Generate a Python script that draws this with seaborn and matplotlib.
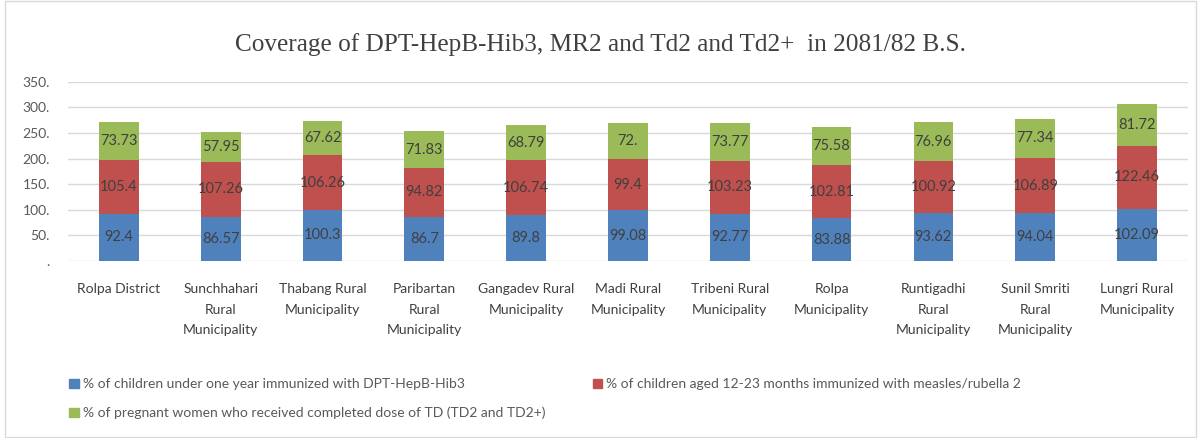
import matplotlib
matplotlib.use("Agg")
import matplotlib.pyplot as plt
import seaborn as sns
import numpy as np
import pandas as pd
from matplotlib.patches import Rectangle, Patch

categories = ["Rolpa District", "Sunchhahari\nRural\nMunicipality", "Thabang Rural\nMunicipality",
              "Paribartan\nRural\nMunicipality", "Gangadev Rural\nMunicipality", "Madi Rural\nMunicipality",
              "Tribeni Rural\nMunicipality", "Rolpa\nMunicipality", "Runtigadhi\nRural\nMunicipality",
              "Sunil Smriti\nRural\nMunicipality", "Lungri Rural\nMunicipality"]
dpt = [92.4, 86.57, 100.3, 86.7, 89.8, 99.08, 92.77, 83.88, 93.62, 94.04, 102.09]
mr2 = [105.4, 107.26, 106.26, 94.82, 106.74, 99.4, 103.23, 102.81, 100.92, 106.89, 122.46]
td2 = [73.73, 57.95, 67.62, 71.83, 68.79, 72.0, 73.77, 75.58, 76.96, 77.34, 81.72]
series_names = ["% of children under one year immunized with DPT-HepB-Hib3",
                "% of children aged 12-23 months immunized with measles/rubella 2",
                "% of pregnant women who received completed dose of TD (TD2 and TD2+)"]
yticks = [0, 50, 100, 150, 200, 250, 300, 350]
title = "Coverage of DPT-HepB-Hib3, MR2 and Td2 and Td2+  in 2081/82 B.S."

colors = ["#4F81BD", "#C0504D", "#9BBB59"]

def fmt(v):
    s = f"{v:g}"
    if s == "0":
        return "."
    if "." not in s:
        s += "."
    return s

df = pd.DataFrame({"cat": categories, "dpt": dpt, "mr2": mr2, "td2": td2})
df["c1"] = df["dpt"]
df["c2"] = df["dpt"] + df["mr2"]
df["c3"] = df["c2"] + df["td2"]

sns.set_style("white")
plt.rcParams["font.family"] = ["Lato", "DejaVu Sans"]

fig = plt.figure(figsize=(12.01, 4.38), dpi=100)
ax = fig.add_axes([0.0566, 0.404, 0.9325, 0.409])

bw = 0.39
sns.barplot(data=df, x="cat", y="c3", color=colors[2], saturation=1, width=bw, ax=ax, zorder=3, edgecolor="none")
sns.barplot(data=df, x="cat", y="c2", color=colors[1], saturation=1, width=bw, ax=ax, zorder=4, edgecolor="none")
sns.barplot(data=df, x="cat", y="c1", color=colors[0], saturation=1, width=bw, ax=ax, zorder=5, edgecolor="none")

for i in range(len(categories)):
    for lo, v in [(0, dpt[i]), (dpt[i], mr2[i]), (dpt[i] + mr2[i], td2[i])]:
        ax.text(i, lo + v / 2, fmt(v), ha="center", va="center", fontsize=10.5,
                color="#404040", zorder=6)

ax.set_ylim(0, 350)
ax.set_xlim(-0.5, len(categories) - 0.5)
ax.set_yticks(yticks)
ax.set_yticklabels([fmt(t) for t in yticks], fontsize=10, color="#595959")
ax.set_xticks(range(len(categories)))
ax.set_xticklabels(categories, fontsize=10, color="#404040", linespacing=1.85, va="top")
ax.tick_params(axis="both", length=0)
ax.tick_params(axis="x", pad=16)
ax.tick_params(axis="y", pad=13)
ax.set_xlabel("")
ax.set_ylabel("")
ax.yaxis.grid(True, color="#D9D9D9", linewidth=1, zorder=0)
ax.set_axisbelow(True)
for s in ax.spines.values():
    s.set_visible(False)

fig.suptitle(title, x=0.5, y=0.925, fontsize=18.2, family="Liberation Serif", color="#404040")

handles = [Patch(color=colors[0], label=series_names[0]),
           Patch(color=colors[2], label=series_names[2]),
           Patch(color=colors[1], label=series_names[1])]
leg = fig.legend(handles=handles, ncol=2, loc="upper left", bbox_to_anchor=(0.047, 0.165),
                 frameon=False, fontsize=10, handlelength=0.7, handleheight=0.7,
                 handletextpad=0.3, columnspacing=3.4, labelspacing=1.2, labelcolor="#595959")

fig.patches.append(Rectangle((0.004, 0.002), 0.992, 0.996, transform=fig.transFigure,
                             fill=False, edgecolor="#D9D9D9", linewidth=1))

fig.savefig("out.png", dpi=100)
